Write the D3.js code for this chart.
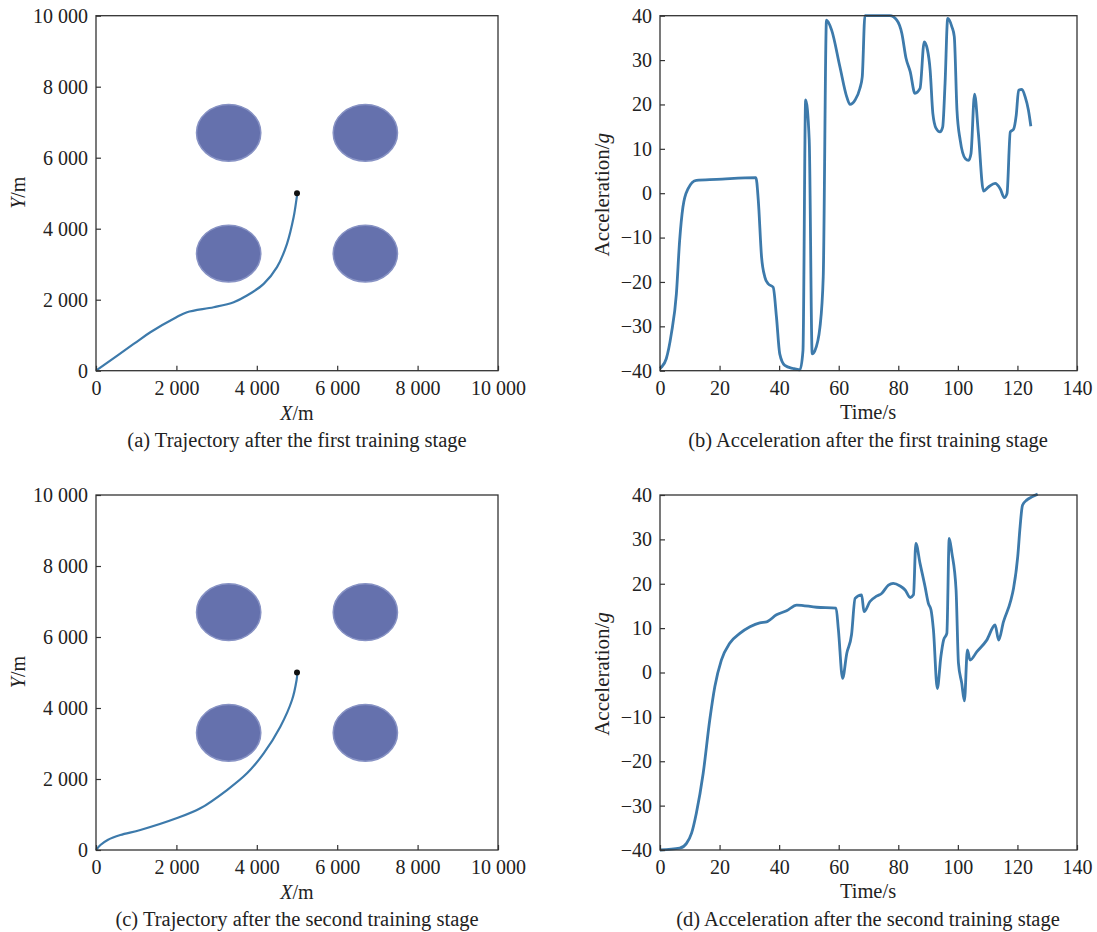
<!DOCTYPE html>
<html>
<head>
<meta charset="utf-8">
<script src="https://cdn.jsdelivr.net/npm/d3@7"></script>
<style>
  body { margin: 0; background: #fff; }
  svg text { font-family: 'Liberation Serif', 'Times New Roman', serif; fill: #222; }
</style>
</head>
<body>
<svg id="chart" width="1097" height="932"></svg>
<script>
// ---- data ----
const obstacleX = [3300, 6700, 3300, 6700]
const obstacleY = [6700, 6700, 3300, 3300]
const obstacleR = 800
const targetPoint = [5000, 5000]

// (a) trajectory after first stage
const trajAx = [0, 937, 1352, 2000, 2264, 2927, 3425, 3756, 4171, 4502, 4751, 4917, 4990, 5010]
const trajAy = [0, 753, 1082, 1505, 1646, 1787, 1929, 2117, 2446, 2916, 3575, 4327, 4850, 5000]

// (c) trajectory after second stage
const trajCx = [0, 110, 300, 605, 1103, 2000, 2595, 3259, 3756, 4171, 4585, 4876, 4990, 5010]
const trajCy = [0, 140, 290, 423, 563, 892, 1174, 1690, 2160, 2723, 3474, 4225, 4789, 5000]

// (b) acceleration after first stage
const accelBt = [0, 0.5, 2.1, 3.8, 5.5, 6.6, 7.7, 9.4, 12.2, 19, 32.2, 33, 34.1, 35.2, 36.3, 38, 39.1, 40.2, 41.9, 44.7, 47,
  48, 48.9, 50.1, 51.1, 52, 53.7, 54.8, 55.9, 57.6, 60.4, 62.7, 63.8, 65.5, 67.1, 67.9, 68.8, 77.2, 79.5, 81.2, 82.6,
  84, 85.6, 87.3, 88.7, 89.8, 90.7, 91.6, 92.7, 94, 94.9, 95.7, 96.6, 98, 98.8, 99.7, 100.8, 102.5, 103.6, 104.4,
  105.6, 106.9, 108.6, 110.3, 112.5, 114.2, 115.6, 116.5, 117.6, 118.7, 119.6, 120.4, 121.5, 122.6, 123.7, 124.5]
const accelBv = [-39.5, -39.2, -37.3, -31.7, -22.7, -10.6, -3.1, 1.0, 2.9, 3.1, 3.5, -1.6, -14.4, -18.9, -20.4, -21.2, -27.9, -36.2, -38.8, -39.5, -39.8,
  -35.5, 21, 12, -36.2, -35.5, -30.2, -18.9, 39, 36.8, 28.5, 21.7, 20, 21, 23.6, 26.2, 40, 40, 39, 36, 30.4,
  27.4, 22.5, 23.6, 34.1, 32.3, 27.7, 18, 14.6, 13.8, 14.9, 24.7, 39.4, 37.5, 35.3, 18.7, 11.9, 7.8, 7.4, 8.9,
  22.3, 13.4, 0.5, 1.4, 2.2, 1, -1, -0.1, 13.8, 14.4, 17.6, 23.2, 23.4, 21.7, 18.7, 15.1]

// (d) acceleration after second stage
const accelDt = [0, 6.6, 8.9, 10.6, 12.2, 14.5, 16.7, 18.4, 20.6, 23.4, 26.8, 30.2, 33.5, 35.8, 39.1, 42.5, 45.9, 52.6, 59.1,
  59.9, 61.3, 62.7, 64.3, 65.5, 67.7, 68.5, 70.5, 72.7, 74.4, 76.7, 78.3, 80.6, 82.3, 84, 85.1, 85.9, 87.3, 89, 90.1,
  91, 91.8, 93.1, 94.3, 95.2, 96.3, 97.1, 98, 99.4, 100.2, 101.3, 102.2, 103.2, 104.1, 106.4, 109.7, 112.5, 113.7,
  115.3, 117.8, 118.7, 120.1, 120.9, 121.7, 123.2, 124.9, 126.8]
const accelDv = [-40, -39.6, -38.5, -36.2, -31.7, -22.7, -10.7, -3.2, 2.8, 6.6, 8.8, 10.3, 11.2, 11.4, 13, 13.9, 15.2, 14.7, 14.5,
  9.6, -1.3, 4.3, 8.5, 16.7, 17.5, 13.7, 16, 17.2, 17.8, 19.7, 20.1, 19.5, 18.6, 16.9, 17.5, 29.1, 24.6, 19.3, 15.6,
  14.1, 9.6, -3.6, 3.6, 7.3, 8.8, 30.2, 26.9, 18.6, 2.1, -2.4, -6.4, 5.1, 2.8, 4.7, 7.3, 10.7, 7.3,
  11.4, 16.3, 19, 26.1, 32.9, 37.7, 38.9, 39.6, 40.2]

const posTicks = [0, 2000, 4000, 6000, 8000, 10000]
const timeTicks = [0, 20, 40, 60, 80, 100, 120, 140]
const accelTicks = [-40, -30, -20, -10, 0, 10, 20, 30, 40]

const captions = [
  '(a) Trajectory after the first training stage',
  '(b) Acceleration after the first training stage',
  '(c) Trajectory after the second training stage',
  '(d) Acceleration after the second training stage',
]

// ---- drawing ----
const svg = d3.select('#chart')
const lineColor = '#3d7aab'
const fmtPos = (d) => d3.format(',')(d).replace(',', ' ')
const fmtAcc = (d) => (d < 0 ? '\u2212' + Math.abs(d) : String(d))

const defs = svg.append('defs')
defs.append('filter').attr('id', 'soft')
  .append('feGaussianBlur').attr('stdDeviation', 0.7)

function frame(g, x, y, xTicks, yTicks, xFmt, yFmt) {
  const [x0, x1] = x.range()
  const [y0, y1] = y.range()

  const xAxis = g.append('g')
    .attr('transform', `translate(0,${y0})`)
    .call(d3.axisBottom(x).tickValues(xTicks).tickFormat(xFmt).tickSizeInner(-5).tickSizeOuter(0).tickPadding(10))
  const yAxis = g.append('g')
    .attr('transform', `translate(${x0},0)`)
    .call(d3.axisLeft(y).tickValues(yTicks).tickFormat(yFmt).tickSizeInner(-5).tickSizeOuter(0).tickPadding(8))

  ;[xAxis, yAxis].forEach((a) => {
    a.select('.domain').remove()
    a.selectAll('line').attr('stroke', '#333').attr('stroke-width', 1.2)
    a.selectAll('text').attr('font-size', 20).attr('fill', '#222')
      .attr('font-family', "'Liberation Serif', serif")
  })

  g.append('rect')
    .attr('x', x0).attr('y', y1)
    .attr('width', x1 - x0).attr('height', y0 - y1)
    .attr('fill', 'none').attr('stroke', '#333').attr('stroke-width', 1.3)
}

function drawTrajectory(top, xs, ys, caption) {
  const g = svg.append('g')
  const x = d3.scaleLinear().domain([0, 10000]).range([96, 498])
  const y = d3.scaleLinear().domain([0, 10000]).range([top + 355, top])

  g.selectAll('ellipse.obs')
    .data(obstacleX.map((d, i) => [d, obstacleY[i]]))
    .join('ellipse')
    .attr('cx', (d) => x(d[0]))
    .attr('cy', (d) => y(d[1]))
    .attr('rx', x(obstacleR) - x(0))
    .attr('ry', y(0) - y(obstacleR))
    .attr('fill', '#6571ad')
    .attr('stroke', '#8792c4')
    .attr('stroke-width', 1.5)
    .attr('filter', 'url(#soft)')

  const line = d3.line()
    .x((d) => x(d[0]))
    .y((d) => y(d[1]))
    .curve(d3.curveCatmullRom)
  g.append('path')
    .datum(xs.map((d, i) => [d, ys[i]]))
    .attr('d', line)
    .attr('fill', 'none')
    .attr('stroke', lineColor)
    .attr('stroke-width', 2.2)

  g.append('circle')
    .attr('cx', x(targetPoint[0])).attr('cy', y(targetPoint[1]))
    .attr('r', 3).attr('fill', '#111')

  frame(g, x, y, posTicks, posTicks, fmtPos, fmtPos)

  const xl = g.append('text')
    .attr('x', (x(0) + x(10000)) / 2).attr('y', top + 404)
    .attr('text-anchor', 'middle').attr('font-size', 20)
  xl.append('tspan').attr('font-style', 'italic').text('X')
  xl.append('tspan').text('/m')

  const yl = g.append('text')
    .attr('transform', `translate(25,${top + 177}) rotate(-90)`)
    .attr('text-anchor', 'middle').attr('font-size', 20)
  yl.append('tspan').attr('font-style', 'italic').text('Y')
  yl.append('tspan').text('/m')

  g.append('text')
    .attr('x', 297).attr('y', top + 431)
    .attr('text-anchor', 'middle').attr('font-size', 20.5)
    .text(caption)
}

function drawAccel(top, ts, vs, caption) {
  const g = svg.append('g')
  const x = d3.scaleLinear().domain([0, 140]).range([660, 1077])
  const y = d3.scaleLinear().domain([-40, 40]).range([top + 355, top])

  const line = d3.line()
    .x((d) => x(d[0]))
    .y((d) => y(d[1]))
    .curve(d3.curveMonotoneX)
  g.append('path')
    .datum(ts.map((d, i) => [d, vs[i]]))
    .attr('d', line)
    .attr('fill', 'none')
    .attr('stroke', lineColor)
    .attr('stroke-width', 2.8)
    .attr('stroke-linejoin', 'round')

  frame(g, x, y, timeTicks, accelTicks, (d) => d, fmtAcc)

  g.append('text')
    .attr('x', 868).attr('y', top + 403)
    .attr('text-anchor', 'middle').attr('font-size', 20.5)
    .text('Time/s')

  const yl = g.append('text')
    .attr('transform', `translate(609,${top + 179}) rotate(-90)`)
    .attr('text-anchor', 'middle').attr('font-size', 21)
  yl.append('tspan').text('Acceleration/')
  yl.append('tspan').attr('font-style', 'italic').text('g')

  g.append('text')
    .attr('x', 868).attr('y', top + 431)
    .attr('text-anchor', 'middle').attr('font-size', 20.5)
    .text(caption)
}

drawTrajectory(15.7, trajAx, trajAy, captions[0])
drawAccel(15.7, accelBt, accelBv, captions[1])
drawTrajectory(495, trajCx, trajCy, captions[2])
drawAccel(495, accelDt, accelDv, captions[3])
</script>
</body>
</html>
